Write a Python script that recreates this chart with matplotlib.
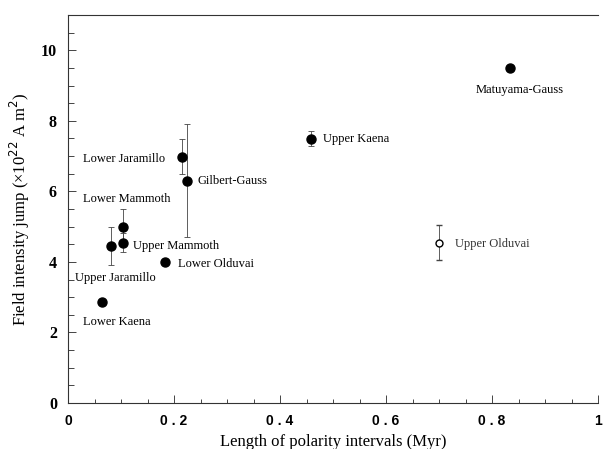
import matplotlib
matplotlib.use('Agg')
import matplotlib.pyplot as plt
from matplotlib.ticker import MultipleLocator, FixedLocator, FixedFormatter

# values
names = ['Lower Kaena', 'Upper Jaramillo', 'Lower Mammoth', 'Upper Mammoth',
         'Lower Olduvai', 'Lower Jaramillo', 'Gilbert-Gauss', 'Upper Kaena',
         'Matuyama-Gauss']
length = [0.065, 0.082, 0.103, 0.103, 0.183, 0.215, 0.224, 0.458, 0.834]
jump = [2.85, 4.46, 5.0, 4.55, 4.01, 6.98, 6.3, 7.49, 9.49]
err = [0.0, 0.54, 0.5, 0.26, 0.0, 0.5, 1.6, 0.21, 0.0]

# open symbol
open_name = 'Upper Olduvai'
open_length = 0.70
open_jump = 4.55
open_err = 0.51

# label anchors (left edge, vertical centre)
label_x = [0.028, 0.013, 0.028, 0.123, 0.207, 0.028, 0.245, 0.482, 0.770]
label_y = [2.29, 3.53, 5.79, 4.46, 3.93, 6.92, 6.30, 7.49, 8.87]
open_label_x, open_label_y = 0.731, 4.52

xticks = [0, 0.2, 0.4, 0.6, 0.8, 1.0]
xticklabels = ['0', '0 . 2', '0 . 4', '0 . 6', '0 . 8', '1']
yticks = [0, 2, 4, 6, 8, 10]

plt.rcParams['font.family'] = ['Liberation Serif', 'DejaVu Serif']

fig = plt.figure(figsize=(6.03, 4.49), dpi=100)
ax = fig.add_axes([68 / 603, 46 / 449, 530 / 603, 388 / 449])

ax.errorbar(length, jump, yerr=err, fmt='o', color='black', ms=6.5,
            ecolor='#444444', elinewidth=0.6, capsize=2.5, capthick=0.6)
ax.errorbar([open_length], [open_jump], yerr=[open_err], fmt='o', mfc='white',
            mec='black', mew=1.0, ms=5, ecolor='#444444', elinewidth=0.6,
            capsize=2.5, capthick=0.6)

for n, lx, ly in zip(names, label_x, label_y):
    ax.text(lx, ly, n, fontsize=9, ha='left', va='center')
ax.text(open_label_x, open_label_y, open_name, fontsize=9, ha='left',
        va='center', color='#333333')

ax.set_xlim(0, 1)
ax.set_ylim(0, 11)
ax.xaxis.set_major_locator(FixedLocator(xticks))
ax.xaxis.set_major_formatter(FixedFormatter(xticklabels))
ax.xaxis.set_minor_locator(MultipleLocator(0.05))
ax.set_yticks(yticks)
ax.yaxis.set_minor_locator(MultipleLocator(0.5))

ax.tick_params(axis='both', which='both', direction='in', top=False, right=False,
               color='#444444', width=0.7)
ax.tick_params(axis='x', which='major', length=6, pad=8)
ax.tick_params(axis='x', which='minor', length=3)
ax.tick_params(axis='y', which='major', length=6, pad=8)
ax.tick_params(axis='y', which='minor', length=4)

for lab in ax.get_xticklabels():
    lab.set_fontfamily('Liberation Sans')
    lab.set_fontweight('bold')
    lab.set_fontsize(10)
for lab in ax.get_yticklabels():
    lab.set_fontweight('bold')
    lab.set_fontsize(11.5)

ax.spines['right'].set_visible(False)
for s in ['left', 'bottom', 'top']:
    ax.spines[s].set_linewidth(0.8)
    ax.spines[s].set_color('#333333')

ax.set_xlabel('Length of polarity intervals (Myr)', fontsize=12, labelpad=4)
ax.set_ylabel('Field intensity jump (\u00d710$^{22}$ A m$^{2}$)', fontsize=12,
              labelpad=6)

fig.savefig('out.png', dpi=100)
